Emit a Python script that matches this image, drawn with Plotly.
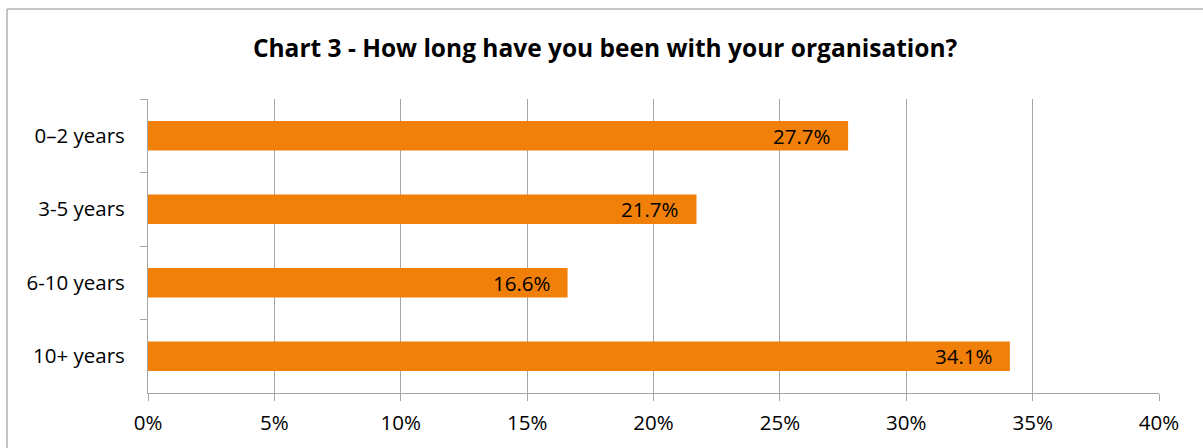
import plotly.graph_objects as go

categories = ["0\u20132 years", "3-5 years", "6-10 years", "10+ years"]
values = [27.7, 21.7, 16.6, 34.1]
tick_vals = [0, 5, 10, 15, 20, 25, 30, 35, 40]
tick_text = ["0%", "5%", "10%", "15%", "20%", "25%", "30%", "35%", "40%"]
title_text = "Chart 3 - How long have you been with your organisation?"

W, H = 1203, 448
ML, MR, MT, MB = 148, 44, 99, 55
FONT = "Open Sans"
ORANGE = "#F0800A"
GRID = "#A6A6A6"

fig = go.Figure()
fig.add_trace(go.Bar(
    x=values, y=categories, orientation="h",
    marker=dict(color=ORANGE, line=dict(width=0)),
    hoverinfo="skip",
))

for c, v in zip(categories, values):
    fig.add_annotation(x=v, y=c, text=f"{v:.1f}%", showarrow=False,
                       xanchor="right", yanchor="middle", xshift=-15,
                       font=dict(family=FONT, size=20.5, color="#000000"))

pw = W - ML - MR
ph = H - MT - MB
x0 = (7 - ML) / pw
x1 = (W + 5 - ML) / pw
y1 = 1 + (MT - 9) / ph
y0 = -(MB + 5) / ph
fig.add_shape(type="rect", xref="paper", yref="paper", x0=x0, x1=x1, y0=y0, y1=y1,
              line=dict(color="#8C8C8C", width=1), fillcolor="rgba(0,0,0,0)", layer="below")

fig.update_layout(
    width=W, height=H,
    margin=dict(l=ML, r=MR, t=MT, b=MB),
    paper_bgcolor="white", plot_bgcolor="white",
    showlegend=False,
    bargap=0.6,
    font=dict(family=FONT, size=20.5, color="#000000"),
    title=dict(text=f"<b>{title_text}</b>", x=0.503, xanchor="center",
               y=1 - 48 / H, yanchor="middle", yref="container",
               font=dict(family=FONT, size=24.5, color="#000000")),
    xaxis=dict(range=[0, 40], tickvals=tick_vals, ticktext=tick_text,
               showgrid=True, gridcolor=GRID, gridwidth=1,
               showline=True, linecolor=GRID, linewidth=1,
               ticks="outside", ticklen=7, tickcolor=GRID,
               zeroline=False, ticklabelstandoff=4,
               tickfont=dict(family=FONT, size=20.5, color="#000000")),
    yaxis=dict(autorange="reversed", showgrid=False,
               showline=True, linecolor=GRID, linewidth=1,
               ticks="outside", ticklen=7, tickcolor=GRID, tickson="boundaries",
               ticklabelstandoff=18,
               tickfont=dict(family=FONT, size=20.5, color="#000000")),
)

fig.write_html("out.html")
